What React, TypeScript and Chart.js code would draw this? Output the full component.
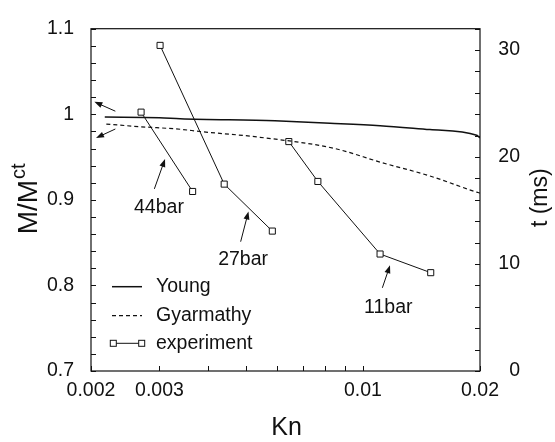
import React, { useEffect, useRef } from 'react';
import { Chart, registerables } from 'chart.js';

Chart.register(...registerables);

const FONT = '"Liberation Sans", Arial, Helvetica, sans-serif';
const INK = '#111';

// ---- Data (Kn on x, M/M^ct on left axis) ----
const youngKn = [0.00217, 0.003, 0.00339, 0.00594, 0.00823, 0.01107, 0.01487, 0.01961, 0.02];
const youngM = [0.9968, 0.996, 0.9949, 0.9923, 0.9896, 0.9867, 0.9821, 0.9754, 0.9723];

const gyarKn = [0.00219, 0.00267, 0.00339, 0.00381, 0.00544, 0.00848, 0.01107, 0.01487, 0.01961, 0.02];
const gyarM = [0.9885, 0.9855, 0.9825, 0.9799, 0.9731, 0.9599, 0.9441, 0.9279, 0.909, 0.9079];

const exp44Kn = [0.00269, 0.00365];
const exp44M = [1.0025, 0.9098];
const exp27Kn = [0.00301, 0.0044, 0.00585];
const exp27M = [1.0805, 0.9184, 0.8635];
const exp11Kn = [0.00645, 0.00766, 0.01107, 0.01494];
const exp11M = [0.9681, 0.9215, 0.8367, 0.8149];

// ---- Ticks ----
const xTickValues = [0.002, 0.003, 0.004, 0.005, 0.006, 0.007, 0.008, 0.009, 0.01, 0.02];
const xTickLabels = [0.002, 0.003, 0.01, 0.02];
const leftMajor = [0.7, 0.8, 0.9, 1, 1.1];
const rightMajor = [0, 10, 20, 30];

// ---- Annotations (data coordinates: [Kn, M]) ----
const labelTexts = ['44bar', '27bar', '11bar'];
const labelKn = [0.00299, 0.00492, 0.01162];
const labelM = [0.891, 0.830, 0.7746];
const arrowFromKn = [0.00291, 0.00485, 0.01122, 0.00231, 0.00231];
const arrowFromM = [0.9128, 0.8511, 0.7972, 1.0036, 0.9828];
const arrowToKn = [0.0031, 0.00508, 0.01174, 0.00204, 0.00206];
const arrowToM = [0.9478, 0.8864, 0.8235, 1.0145, 0.9723];

const legendNames = ['Young', 'Gyarmathy', 'experiment'];

const pts = (xs: number[], ys: number[]) => xs.map((x, i) => ({ x, y: ys[i] }));
const near = (a: number, b: number) => Math.abs(a - b) < 1e-9 * Math.max(1, Math.abs(b)) + 1e-9;

const drawArrow = (ctx: CanvasRenderingContext2D, x1: number, y1: number, x2: number, y2: number) => {
  const ang = Math.atan2(y2 - y1, x2 - x1);
  const hl = 8;
  const hw = 3;
  ctx.beginPath();
  ctx.moveTo(x1, y1);
  ctx.lineTo(x2 - Math.cos(ang) * hl * 0.8, y2 - Math.sin(ang) * hl * 0.8);
  ctx.stroke();
  ctx.beginPath();
  ctx.moveTo(x2, y2);
  ctx.lineTo(x2 - Math.cos(ang) * hl - Math.sin(ang) * hw, y2 - Math.sin(ang) * hl + Math.cos(ang) * hw);
  ctx.lineTo(x2 - Math.cos(ang) * hl + Math.sin(ang) * hw, y2 - Math.sin(ang) * hl - Math.cos(ang) * hw);
  ctx.closePath();
  ctx.fill();
};

const decorPlugin = {
  id: 'decor',
  afterDraw(chart: any) {
    const { ctx, chartArea: a, scales } = chart;
    const sx = scales.x;
    const sy = scales.y;
    const sr = scales.yR;
    ctx.save();
    ctx.strokeStyle = INK;
    ctx.fillStyle = INK;

    // inward tick marks
    ctx.lineWidth = 1;
    const L = 5;
    ctx.beginPath();
    sx.ticks.forEach((_t: any, i: number) => {
      const p = Math.round(sx.getPixelForTick(i)) + 0.5;
      ctx.moveTo(p, a.bottom);
      ctx.lineTo(p, a.bottom - L);
    });
    sy.ticks.forEach((_t: any, i: number) => {
      const p = Math.round(sy.getPixelForTick(i)) + 0.5;
      ctx.moveTo(a.left, p);
      ctx.lineTo(a.left + L, p);
    });
    sr.ticks.forEach((_t: any, i: number) => {
      const p = Math.round(sr.getPixelForTick(i)) + 0.5;
      ctx.moveTo(a.right, p);
      ctx.lineTo(a.right - L, p);
    });
    ctx.stroke();

    // frame
    ctx.lineWidth = 1.2;
    ctx.strokeRect(a.left, a.top, a.right - a.left, a.bottom - a.top);

    // arrows
    ctx.lineWidth = 1;
    arrowFromKn.forEach((kn, i) => {
      drawArrow(
        ctx,
        sx.getPixelForValue(kn),
        sy.getPixelForValue(arrowFromM[i]),
        sx.getPixelForValue(arrowToKn[i]),
        sy.getPixelForValue(arrowToM[i])
      );
    });

    // annotation texts
    ctx.font = `19.5px ${FONT}`;
    ctx.textAlign = 'center';
    ctx.textBaseline = 'middle';
    labelTexts.forEach((t, i) => {
      ctx.fillText(t, sx.getPixelForValue(labelKn[i]), sy.getPixelForValue(labelM[i]));
    });

    // legend
    const lx = a.left;
    const lb = a.bottom;
    const rows = [lb - 84.3, lb - 55.3, lb - 27.7];
    ctx.lineWidth = 1.5;
    ctx.beginPath();
    ctx.moveTo(lx + 21, rows[0]);
    ctx.lineTo(lx + 51, rows[0]);
    ctx.stroke();
    ctx.lineWidth = 1.2;
    ctx.setLineDash([4, 3]);
    ctx.beginPath();
    ctx.moveTo(lx + 21, rows[1]);
    ctx.lineTo(lx + 51, rows[1]);
    ctx.stroke();
    ctx.setLineDash([]);
    ctx.lineWidth = 1;
    ctx.beginPath();
    ctx.moveTo(lx + 22.3, rows[2]);
    ctx.lineTo(lx + 50.7, rows[2]);
    ctx.stroke();
    [lx + 22.3, lx + 50.7].forEach((cx) => {
      ctx.fillStyle = '#fff';
      ctx.fillRect(cx - 3, rows[2] - 3, 6, 6);
      ctx.strokeRect(cx - 3, rows[2] - 3, 6, 6);
    });
    ctx.fillStyle = INK;
    ctx.textAlign = 'left';
    ctx.textBaseline = 'middle';
    legendNames.forEach((n, i) => ctx.fillText(n, lx + 65, rows[i]));

    // axis titles
    const cy = (a.top + a.bottom) / 2;
    // left: M/M^ct
    ctx.save();
    ctx.translate(a.left - 54.3, cy - 1);
    ctx.rotate(-Math.PI / 2);
    ctx.textBaseline = 'alphabetic';
    ctx.textAlign = 'left';
    ctx.font = `28px ${FONT}`;
    const w1 = ctx.measureText('M/M').width;
    ctx.font = `20px ${FONT}`;
    const w2 = ctx.measureText('ct').width;
    const start = -(w1 + w2 + 1) / 2;
    ctx.font = `28px ${FONT}`;
    ctx.fillText('M/M', start, 0);
    ctx.font = `20px ${FONT}`;
    ctx.fillText('ct', start + w1 + 1, -12);
    ctx.restore();

    // right: t (ms)
    ctx.save();
    ctx.translate(a.right + 67, a.top + 169);
    ctx.rotate(-Math.PI / 2);
    ctx.textAlign = 'center';
    ctx.textBaseline = 'alphabetic';
    ctx.font = `23px ${FONT}`;
    ctx.fillText('t (ms)', 0, 0);
    ctx.restore();

    // bottom: Kn
    ctx.textAlign = 'center';
    ctx.textBaseline = 'middle';
    ctx.font = `25px ${FONT}`;
    ctx.fillText('Kn', (a.left + a.right) / 2 + 1, a.bottom + 57);

    ctx.restore();
  },
};

export default function App() {
  const ref = useRef<HTMLCanvasElement | null>(null);

  useEffect(() => {
    if (!ref.current) return;
    const tickFont = { family: FONT, size: 19.5 };
    const chart = new Chart(ref.current, {
      type: 'line',
      data: {
        datasets: [
          {
            label: 'Young',
            data: pts(youngKn, youngM),
            borderColor: INK,
            borderWidth: 1.5,
            pointRadius: 0,
            cubicInterpolationMode: 'monotone',
            yAxisID: 'y',
          },
          {
            label: 'Gyarmathy',
            data: pts(gyarKn, gyarM),
            borderColor: INK,
            borderWidth: 1.2,
            borderDash: [4, 3],
            pointRadius: 0,
            cubicInterpolationMode: 'monotone',
            yAxisID: 'y',
          },
          ...[
            pts(exp44Kn, exp44M),
            pts(exp27Kn, exp27M),
            pts(exp11Kn, exp11M),
          ].map((d) => ({
            label: 'experiment',
            data: d,
            borderColor: INK,
            borderWidth: 1,
            pointStyle: 'rect' as const,
            pointRadius: 4.3,
            pointBorderWidth: 1,
            pointBorderColor: INK,
            pointBackgroundColor: '#fff',
            tension: 0,
            yAxisID: 'y',
          })),
        ],
      },
      options: {
        responsive: false,
        animation: false,
        events: [],
        layout: { padding: { top: 17, right: 35, left: 0, bottom: 0 } },
        plugins: { legend: { display: false }, tooltip: { enabled: false } },
        scales: {
          x: {
            type: 'logarithmic',
            position: 'bottom',
            min: 0.002,
            max: 0.02,
            grid: { display: false, drawTicks: false },
            border: { display: false },
            afterBuildTicks: (s: any) => {
              s.ticks = xTickValues.map((v) => ({ value: v }));
            },
            afterFit: (s: any) => {
              s.height = 71;
            },
            ticks: {
              autoSkip: false,
              maxRotation: 0,
              minRotation: 0,
              padding: 8,
              color: INK,
              font: tickFont,
              callback: (v: any) => (xTickLabels.some((t) => near(Number(v), t)) ? String(Number(v)) : ''),
            },
          },
          y: {
            type: 'linear',
            position: 'left',
            min: 0.7,
            max: 1.1,
            grid: { display: false, drawTicks: false },
            border: { display: false },
            afterFit: (s: any) => {
              s.width = 91;
            },
            ticks: {
              stepSize: 0.02,
              autoSkip: false,
              padding: 17,
              color: INK,
              font: tickFont,
              callback: (v: any) => {
                const m = leftMajor.find((t) => Math.abs(Number(v) - t) < 1e-6);
                return m === undefined ? '' : String(m);
              },
            },
          },
          yR: {
            type: 'linear',
            position: 'right',
            min: 0,
            max: 32,
            grid: { display: false, drawTicks: false },
            border: { display: false },
            afterFit: (s: any) => {
              s.width = 40;
            },
            ticks: {
              stepSize: 2,
              autoSkip: false,
              crossAlign: 'far',
              padding: 16,
              color: INK,
              font: tickFont,
              callback: (v: any) => {
                const m = rightMajor.find((t) => Math.abs(Number(v) - t) < 1e-6);
                return m === undefined ? '' : String(m);
              },
            },
          },
        },
      } as any,
      plugins: [decorPlugin],
    });
    return () => chart.destroy();
  }, []);

  return (
    <div style={{ position: 'absolute', left: 0, top: 0, width: 555, height: 442, background: '#fff' }}>
      <canvas ref={ref} width={555} height={442} style={{ display: 'block' }} />
    </div>
  );
}
